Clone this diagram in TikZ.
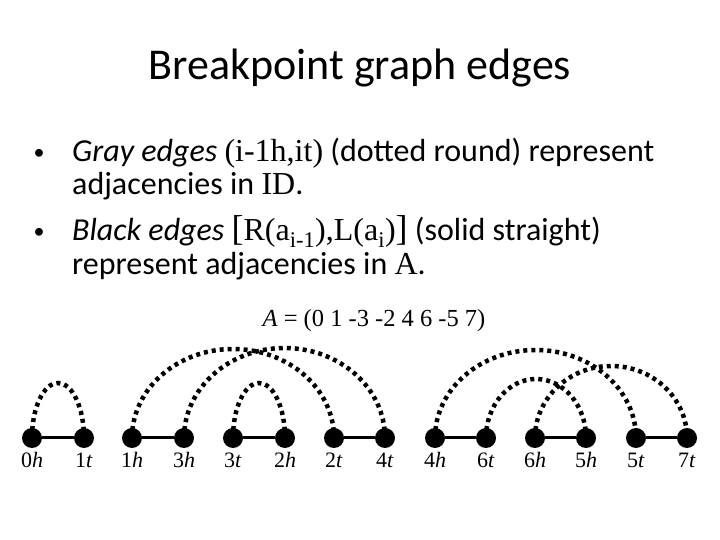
\documentclass[tikz,border=0pt]{standalone}
\usepackage{fontspec}
\setmainfont{Carlito}
\newfontfamily\serf{Liberation Serif}
\usetikzlibrary{backgrounds}
\tikzset{
  vtx/.style={circle,fill=black,inner sep=0pt,minimum size=20pt},
  lbl/.style={font=\serf\fontsize{22}{24}\selectfont,anchor=base,inner sep=0pt},
  blackedge/.style={line width=3pt},
  grayedge/.style={line width=4.5pt,dash pattern=on 4pt off 4pt},
  txt/.style={anchor=base west,inner sep=0pt,font=\fontsize{32}{36}\selectfont},
  bul/.style={anchor=base,inner sep=0pt,font=\fontsize{22}{24}\selectfont},
}
\begin{document}
\begin{tikzpicture}[x=1pt,y=1pt]
\useasboundingbox (0,0) rectangle (720,540);
% title
\node[anchor=base,inner sep=0pt,font=\fontsize{44}{50}\selectfont] (title) at (360,460) {Breakpoint graph edges};
% bullets
\node[bul] (b1) at (39,380) {\textbullet};
\node[txt] (l1) at (72,378) {\textit{Gray edges} {\serf (i-1h,it)} (dotted round) represent};
\node[txt] (l2) at (72,345) {adjacencies in {\serf ID}.};
\node[bul] (b2) at (39,301) {\textbullet};
\node[txt] (l3) at (72,299) {\textit{Black edges} {\serf\fontsize{36}{38}\selectfont[}{\serf R(a\textsubscript{i-1}),L(a\textsubscript{i})}{\serf\fontsize{36}{38}\selectfont]} (solid straight)};
\node[txt] (l4) at (72,265) {represent adjacencies in {\serf A}.};
% permutation
\node[lbl,font=\serf\fontsize{24.5}{26}\selectfont] (perm) at (374,213) {\textit{A} = (0 1 -3 -2 4 6 -5 7)};
% vertices
\foreach \n/\x/\d/\l in {0h/32/0/h,1t/84/1/t,1h/132/1/h,3h/184/3/h,3t/233/3/t,2h/285/2/h,2t/334/2/t,4t/385/4/t,4h/435/4/h,6t/486/6/t,6h/535/6/h,5h/586/5/h,5t/636/5/t,7t/687/7/t}{
  \node[vtx] (v\n) at (\x,102) {};
  \node[lbl] (t\n) at (\x,72) {\d\textit{\l}};
}
% black edges
\foreach \a/\b in {0h/1t,1h/3h,3t/2h,2t/4t,4h/6t,6h/5h,5t/7t}{
  \draw[blackedge] (v\a) -- (v\b);
}
% gray edges
\begin{scope}[on background layer]
\draw[grayedge] (v0h.center) arc[start angle=180,end angle=0,x radius=26,y radius=55];
\draw[grayedge] (v1h.center) arc[start angle=180,end angle=0,x radius=101,y radius=89];
\draw[grayedge] (v3h.center) arc[start angle=180,end angle=0,x radius=100.5,y radius=90];
\draw[grayedge] (v3t.center) arc[start angle=180,end angle=0,x radius=26,y radius=55];
\draw[grayedge] (v4h.center) arc[start angle=180,end angle=0,x radius=100.5,y radius=88];
\draw[grayedge] (v6t.center) arc[start angle=180,end angle=0,x radius=50,y radius=59];
\draw[grayedge] (v6h.center) arc[start angle=180,end angle=0,x radius=76,y radius=72];
\end{scope}
\end{tikzpicture}
\end{document}
